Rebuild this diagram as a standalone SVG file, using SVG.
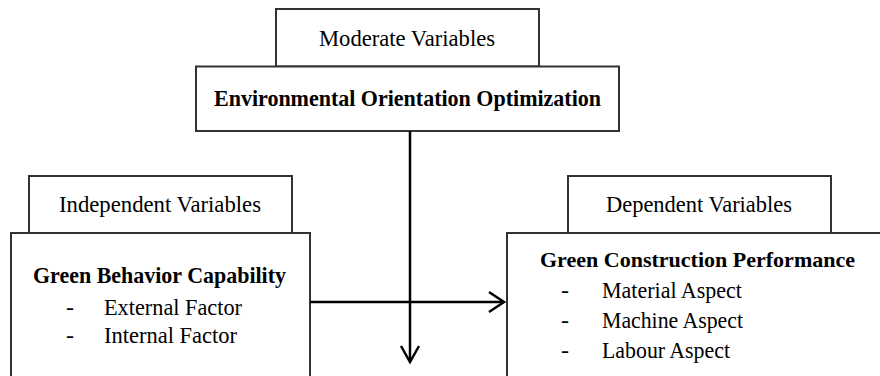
<svg xmlns="http://www.w3.org/2000/svg" width="880" height="376" viewBox="0 0 880 376">
<style>
.box{fill:#fff;stroke:#333;stroke-width:2}
.t{font-family:"Liberation Serif","Times New Roman",serif;font-size:24px;fill:#000}
.b{font-weight:bold}
.arr{stroke:#000;stroke-width:2.5;fill:none}
</style>
<rect width="880" height="376" fill="#fff"/>
<g id="moderate-label">
<rect class="box" x="276" y="9" width="263" height="57.5"/>
<text class="t" x="319" y="46" textLength="176" lengthAdjust="spacingAndGlyphs">Moderate Variables</text>
</g>
<g id="moderate">
<rect class="box" x="196" y="66.5" width="423" height="64.5"/>
<text class="t b" x="214" y="106" textLength="387" lengthAdjust="spacingAndGlyphs">Environmental Orientation Optimization</text>
</g>
<g id="independent-label">
<rect class="box" x="29" y="176" width="263" height="57"/>
<text class="t" x="59" y="212" textLength="202" lengthAdjust="spacingAndGlyphs">Independent Variables</text>
</g>
<g id="dependent-label">
<rect class="box" x="568" y="176" width="263" height="57"/>
<text class="t" x="606" y="212" textLength="186" lengthAdjust="spacingAndGlyphs">Dependent Variables</text>
</g>
<g id="independent">
<path class="box" d="M11,376 V233 H310 V376"/>
<text class="t b" x="33" y="283" textLength="253" lengthAdjust="spacingAndGlyphs">Green Behavior Capability</text>
<text class="t" x="66" y="315">-</text>
<text class="t" x="104" y="315" textLength="138" lengthAdjust="spacingAndGlyphs">External Factor</text>
<text class="t" x="66" y="343">-</text>
<text class="t" x="104" y="343" textLength="133" lengthAdjust="spacingAndGlyphs">Internal Factor</text>
</g>
<g id="dependent">
<path class="box" d="M507,376 V233 H880"/>
<text class="t b" x="540" y="267" font-size="22" style="font-size:22px" textLength="315" lengthAdjust="spacingAndGlyphs">Green Construction Performance</text>
<text class="t" x="561" y="298">-</text>
<text class="t" x="602" y="298" textLength="140" lengthAdjust="spacingAndGlyphs">Material Aspect</text>
<text class="t" x="561" y="328">-</text>
<text class="t" x="602" y="328" textLength="141" lengthAdjust="spacingAndGlyphs">Machine Aspect</text>
<text class="t" x="561" y="358">-</text>
<text class="t" x="602" y="358" textLength="128" lengthAdjust="spacingAndGlyphs">Labour Aspect</text>
</g>
<g id="connectors">
<line class="arr" x1="410" y1="131" x2="410" y2="362"/>
<polyline class="arr" points="401,346 410,362 419,346"/>
<line class="arr" x1="310" y1="302" x2="504" y2="302"/>
<polyline class="arr" points="489,292 504,302 489,312"/>
</g>
</svg>
